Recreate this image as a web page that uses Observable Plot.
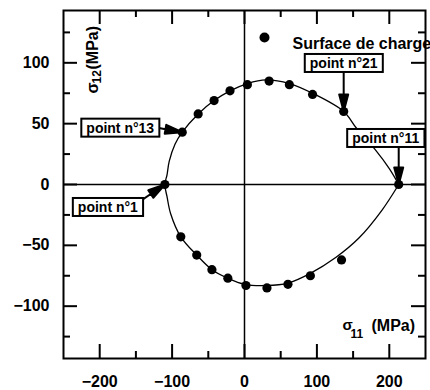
<!DOCTYPE html>
<html>
<head>
<meta charset="utf-8">
<script src="https://cdn.jsdelivr.net/npm/d3@7"></script>
<script src="https://cdn.jsdelivr.net/npm/@observablehq/plot@0.6"></script>
<style>
  body { margin: 0; background: #fff; }
</style>
</head>
<body>
<div id="chart"></div>
<script>
// ---- data (σ11, σ12 in MPa) ----
const pointS11 = [-110, -86, -64, -42, -20, 4, 34, 62, 94, 137, 213, -88, -66, -45, -23, 2, 31, 60, 91, 134];
const pointS12 = [0, 43, 58, 69, 77, 82, 85, 82, 74, 60, 0, -43, -58, -70, -77, -83, -85, -82, -75, -62];

// fitted load surface curve (upper branch then lower branch)
const curveS11 = [213, 200, 180, 155, 137, 94, 62, 30, 4, -20, -42, -64, -86, -96, -104, -107, -110,
                  -107, -102, -88, -66, -45, -23, 0, 30, 60, 91, 126, 158, 190, 213];
const curveS12 = [0, 13, 29, 46, 60, 75, 83, 86, 83, 77, 69, 58, 43, 33, 19, 8, 0,
                  -10, -24, -43, -58, -70, -77, -82, -83, -81, -73, -60, -44, -21, 0];

const annotLabels = ["point n°1", "point n°13", "point n°21", "point n°11"];
const annotS11 = [-110, -86, 137, 213];
const annotS12 = [0, 43, 60, 0];

const xTicks = [-200, -100, 0, 100, 200];
const xMinorTicks = [-150, -50, 50, 150];
const yTicks = [-100, -50, 0, 50, 100];
const yMinorTicks = [-125, -75, -25, 25, 75, 125];
const zeroLine = [0];

const legendLabels = ["Surface de charge"];
const sigma = "σ";
const xSub = "11";
const ySub = "12";
const unitLabel = "(MPa)";

// ---- build tables ----
const points = pointS11.map((x, i) => ({x, y: pointS12[i]}));
const curve = curveS11.map((x, i) => ({x, y: curveS12[i]}));
const annotations = annotLabels.map((label, i) => ({label, x: annotS11[i], y: annotS12[i]}));

// layout of annotation boxes / arrows (pixels)
const annotLayout = [
  {dx: -57, dy: 23, rotate: 56, length: 27},
  {dx: -62, dy: -4, rotate: 100, length: 25},
  {dx: 0, dy: -48, rotate: 180, length: 41},
  {dx: -13, dy: -46, rotate: 180, length: 38}
];

const arrowShape = {
  draw(ctx, l) {
    const h = 17, w = 9;
    ctx.moveTo(0, 0);
    ctx.lineTo(0, -l + h);
    ctx.moveTo(0, -l);
    ctx.lineTo(w / 2, -l + h);
    ctx.lineTo(-w / 2, -l + h);
    ctx.closePath();
  }
};

const W = 430, H = 390, ML = 63, MR = 5, MT = 10, MB = 32;
const frameW = W - ML - MR, frameH = H - MT - MB;
const MAJ = 14, MIN = 7;
const tk = {strokeWidth: 2, stroke: "black"};

const chart = Plot.plot({
  width: W, height: H,
  marginLeft: ML, marginRight: MR, marginTop: MT, marginBottom: MB,
  x: {domain: [-250, 250], label: null},
  y: {domain: [-143, 143], label: null},
  style: {
    fontFamily: '"Liberation Sans", Arial, sans-serif',
    fontSize: "16px",
    fontWeight: "bold",
    color: "black",
    background: "white"
  },
  marks: [
    Plot.ruleX(zeroLine, {strokeWidth: 1.5}),
    Plot.ruleY(zeroLine, {strokeWidth: 1.5}),
    Plot.line(curve, {x: "x", y: "y", curve: "catmull-rom", strokeWidth: 1.3}),
    Plot.dot(points, {x: "x", y: "y", r: 4.6, fill: "black"}),

    // inward ticks on all four sides
    Plot.tickX(xTicks, {x: d => d, insetTop: frameH - MAJ, ...tk}),
    Plot.tickX(xMinorTicks, {x: d => d, insetTop: frameH - MIN, ...tk}),
    Plot.tickX(xTicks, {x: d => d, insetBottom: frameH - MAJ, ...tk}),
    Plot.tickX(xMinorTicks, {x: d => d, insetBottom: frameH - MIN, ...tk}),
    Plot.tickY(yTicks, {y: d => d, insetRight: frameW - MAJ, ...tk}),
    Plot.tickY(yMinorTicks, {y: d => d, insetRight: frameW - MIN, ...tk}),
    Plot.tickY(yTicks, {y: d => d, insetLeft: frameW - MAJ, ...tk}),
    Plot.tickY(yMinorTicks, {y: d => d, insetLeft: frameW - MIN, ...tk}),

    // tick labels
    Plot.axisX(xTicks, {anchor: "bottom", tickSize: 0, tickPadding: 17, label: null, fontSize: 16}),
    Plot.axisY(yTicks, {anchor: "left", tickSize: 0, tickPadding: 14, label: null, fontSize: 16}),

    Plot.frame({strokeWidth: 2, stroke: "black"}),

    // legend
    Plot.dot(legendLabels, {x: null, y: null, frameAnchor: "top-right", dx: -161, dy: 27, r: 5, fill: "black"}),
    Plot.text(legendLabels, {frameAnchor: "top-left", dx: 229, dy: 27, textAnchor: "start", fontSize: 16, fontWeight: "bold"}),

    // y title  σ12(MPa)
    Plot.text([sigma], {frameAnchor: "top-left", dx: 34, dy: 83, rotate: -90, textAnchor: "start", lineAnchor: "bottom", fontSize: 16}),
    Plot.text([ySub], {frameAnchor: "top-left", dx: 37, dy: 73, rotate: -90, textAnchor: "start", lineAnchor: "bottom", fontSize: 12}),
    Plot.text([unitLabel], {frameAnchor: "top-left", dx: 34, dy: 59, rotate: -90, textAnchor: "start", lineAnchor: "bottom", fontSize: 16}),

    // x title  σ11 (MPa)
    Plot.text([sigma], {frameAnchor: "bottom-right", dx: -83, dy: -29, textAnchor: "start", lineAnchor: "bottom", fontSize: 15}),
    Plot.text([xSub], {frameAnchor: "bottom-right", dx: -75, dy: -21, textAnchor: "start", lineAnchor: "bottom", fontSize: 12}),
    Plot.text([unitLabel], {frameAnchor: "bottom-right", dx: -54, dy: -28, textAnchor: "start", lineAnchor: "bottom", fontSize: 16}),

    // annotation arrows
    ...annotations.map((a, i) => Plot.vector([a], {
      x: "x", y: "y", anchor: "end",
      rotate: annotLayout[i].rotate, length: annotLayout[i].length,
      shape: arrowShape, fill: "black", stroke: "black", strokeWidth: 2
    })),
    // annotation labels
    ...annotations.map((a, i) => Plot.text([a], {
      x: "x", y: "y", text: "label",
      dx: annotLayout[i].dx, dy: annotLayout[i].dy,
      fontSize: 14, fontWeight: "bold"
    }))
  ]
});

document.getElementById("chart").appendChild(chart);

// boxes behind the annotation labels
d3.select(chart).selectAll("text")
  .filter(function () { return annotLabels.includes(this.textContent); })
  .each(function () {
    const b = this.getBBox();
    const padX = 5, padY = 1;
    const node = this;
    d3.select(this.parentNode).insert("rect", () => node)
      .attr("x", b.x - padX).attr("y", b.y - padY)
      .attr("width", b.width + 2 * padX).attr("height", b.height + 2 * padY)
      .attr("transform", node.getAttribute("transform"))
      .attr("fill", "white").attr("stroke", "black").attr("stroke-width", 2);
  });
</script>
</body>
</html>
